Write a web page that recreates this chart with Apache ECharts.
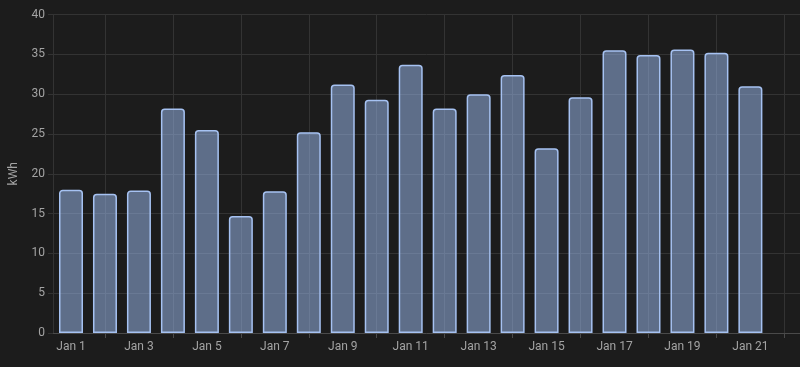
<!DOCTYPE html>
<html>
<head>
<meta charset="utf-8">
<script src="https://cdn.jsdelivr.net/npm/echarts@6/dist/echarts.min.js"></script>
<style>
html,body{margin:0;padding:0;background:#1c1c1c;}
#c{width:800px;height:367px;}
</style>
</head>
<body>
<div id="c"></div>
<script>
// Data
const dayLabels = ['Jan 1','Jan 2','Jan 3','Jan 4','Jan 5','Jan 6','Jan 7','Jan 8','Jan 9','Jan 10','Jan 11','Jan 12','Jan 13','Jan 14','Jan 15','Jan 16','Jan 17','Jan 18','Jan 19','Jan 20','Jan 21'];
const dayNumbers = [1,2,3,4,5,6,7,8,9,10,11,12,13,14,15,16,17,18,19,20,21];
const energyKWh = [18.0,17.5,17.9,28.2,25.5,14.7,17.8,25.2,31.2,29.3,33.7,28.2,30.0,32.4,23.2,29.6,35.5,34.9,35.6,35.2,31.0];
const labelDays = [1,3,5,7,9,11,13,15,17,19,21];
const tickDays = [2,4,6,8,10,12,14,16,18,20,22];
const yTicks = {min:0, max:40, interval:5};

const chart = echarts.init(document.getElementById('c'), null, {renderer:'canvas'});
const gridColor = '#333333';
const textColor = '#a3a3a3';
chart.setOption({
  backgroundColor:'#1c1c1c',
  animation:false,
  grid:{left:53, right:0, top:14.5, bottom:34},
  xAxis:{
    type:'value',
    min:0.47, max:22.46,
    axisLine:{show:true, lineStyle:{color:'#4a4a4a'}},
    axisTick:{show:true, length:5, customValues:tickDays, lineStyle:{color:'#4a4a4a'}},
    splitLine:{show:true, lineStyle:{color:gridColor}},
    axisLabel:{customValues:labelDays, color:textColor, fontSize:12, fontFamily:'Roboto', margin:8,
      formatter:v=>dayLabels[v-1] || ''}
  },
  yAxis:{
    type:'value',
    min:yTicks.min, max:yTicks.max, interval:yTicks.interval,
    name:'kWh', nameLocation:'middle', nameGap:33,
    nameTextStyle:{color:textColor, fontSize:12, fontFamily:'Roboto'},
    axisLine:{show:true, lineStyle:{color:gridColor}},
    axisTick:{show:true, length:5, lineStyle:{color:gridColor}},
    splitLine:{show:true, lineStyle:{color:gridColor}},
    axisLabel:{color:textColor, fontSize:12, fontFamily:'Roboto', margin:8}
  },
  series:[{
    type:'bar',
    barWidth:24,
    data:dayNumbers.map((d,i)=>[d, energyKWh[i]]),
    itemStyle:{
      color:'rgba(159,192,245,0.5)',
      borderColor:'#a6c2f2',
      borderWidth:1.5,
      borderRadius:[3,3,0,0]
    }
  }]
});
</script>
</body>
</html>
